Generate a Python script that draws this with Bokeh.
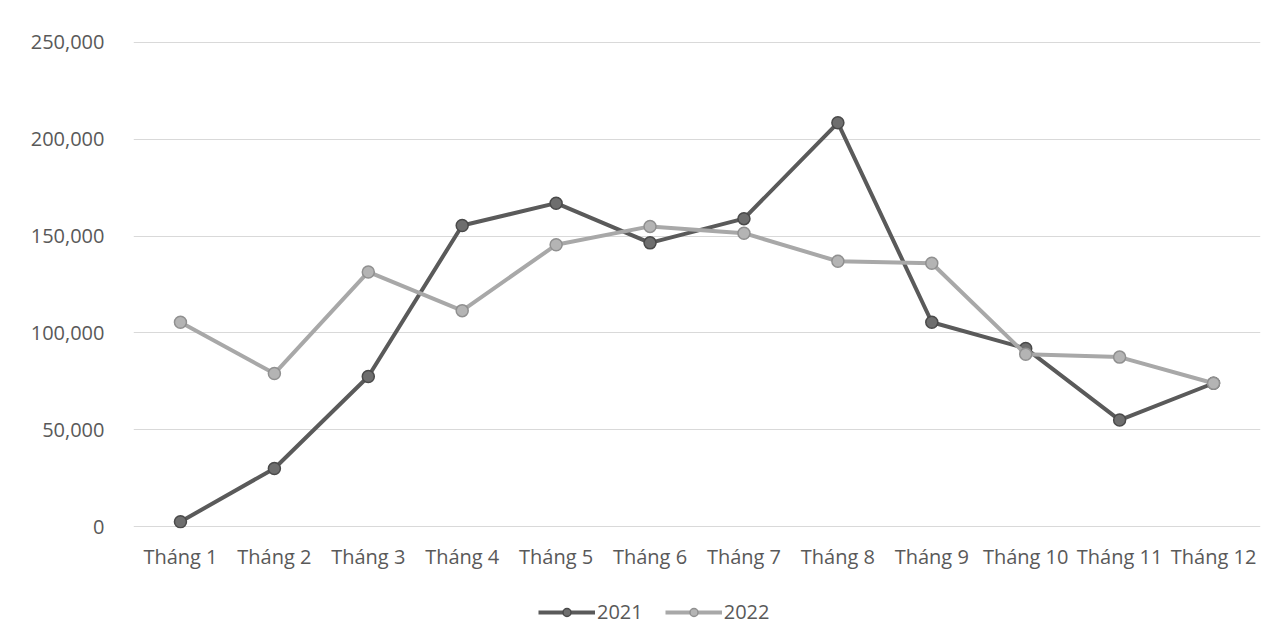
from bokeh.plotting import figure
from bokeh.layouts import column
from bokeh.models import ColumnDataSource, Legend, LegendItem, NumeralTickFormatter, FixedTicker, Range1d
from bokeh.embed import file_html
from bokeh.resources import INLINE

months = ["Tháng 1", "Tháng 2", "Tháng 3", "Tháng 4", "Tháng 5", "Tháng 6",
          "Tháng 7", "Tháng 8", "Tháng 9", "Tháng 10", "Tháng 11", "Tháng 12"]
v2021 = [2500, 30000, 77500, 155500, 167000, 146500, 159000, 208500, 105500, 92000, 55000, 74000]
v2022 = [105500, 79000, 131500, 111500, 145500, 155000, 151500, 137000, 136000, 89000, 87500, 74000]
y_ticks = [0, 50000, 100000, 150000, 200000, 250000]
series_names = ["2021", "2022"]

FONT = "Open Sans"
TXT = "#595959"
FS = "20px"
C21 = dict(line="#5a5a5a", fill="#6e6e6e", edge="#4a4a4a")
C22 = dict(line="#a8a8a8", fill="#b4b4b4", edge="#909090")

src = ColumnDataSource(dict(m=months, a=v2021, b=v2022))

p = figure(x_range=months, y_range=Range1d(-1000, 251000), width=1282, height=580,
           output_backend="svg", toolbar_location=None,
           min_border_left=133, min_border_right=22, min_border_top=40, min_border_bottom=52)
p.outline_line_color = None
p.background_fill_color = "white"
p.border_fill_color = "white"

p.line("m", "a", source=src, line_color=C21["line"], line_width=4)
p.scatter("m", "a", source=src, size=12, fill_color=C21["fill"], line_color=C21["edge"], line_width=1.5)
p.line("m", "b", source=src, line_color=C22["line"], line_width=4)
p.scatter("m", "b", source=src, size=12, fill_color=C22["fill"], line_color=C22["edge"], line_width=1.5)

p.yaxis.ticker = FixedTicker(ticks=y_ticks)
p.yaxis.formatter = NumeralTickFormatter(format="0,0")
for ax in (p.xaxis, p.yaxis):
    ax.axis_line_color = None
    ax.major_tick_line_color = None
    ax.minor_tick_line_color = None
    ax.major_label_text_font = FONT
    ax.major_label_text_font_size = FS
    ax.major_label_text_color = TXT
p.yaxis.major_label_standoff = 23
p.xaxis.major_label_standoff = 8

p.xgrid.grid_line_color = None
p.ygrid.grid_line_color = "#d9d9d9"
p.ygrid.grid_line_width = 1

# legend strip below the chart (series drawn out of its visible y range; only the legend shows)
q = figure(width=1282, height=63, x_range=p.x_range, y_range=Range1d(1e6, 2e6), output_backend="svg",
           toolbar_location=None, x_axis_type=None, y_axis_type=None,
           min_border_left=133, min_border_right=22, min_border_top=0, min_border_bottom=0)
q.outline_line_color = None
q.xgrid.grid_line_color = None
q.ygrid.grid_line_color = None
r1 = q.line("m", "a", source=src, line_color=C21["line"], line_width=4)
s1 = q.scatter("m", "a", source=src, size=12, fill_color=C21["fill"], line_color=C21["edge"], line_width=1.5)
r2 = q.line("m", "b", source=src, line_color=C22["line"], line_width=4)
s2 = q.scatter("m", "b", source=src, size=12, fill_color=C22["fill"], line_color=C22["edge"], line_width=1.5)
legend = Legend(items=[LegendItem(label=series_names[0], renderers=[r1, s1]),
                       LegendItem(label=series_names[1], renderers=[r2, s2])],
                orientation="horizontal", location=(405, 18),
                label_text_font=FONT, label_text_font_size=FS, label_text_color=TXT,
                glyph_width=57, glyph_height=20, label_standoff=2, spacing=22,
                padding=0, margin=0, border_line_color=None, background_fill_alpha=0)
q.add_layout(legend, "center")

layout = column(p, q, spacing=0)
open("out.html", "w").write(file_html(layout, INLINE))
